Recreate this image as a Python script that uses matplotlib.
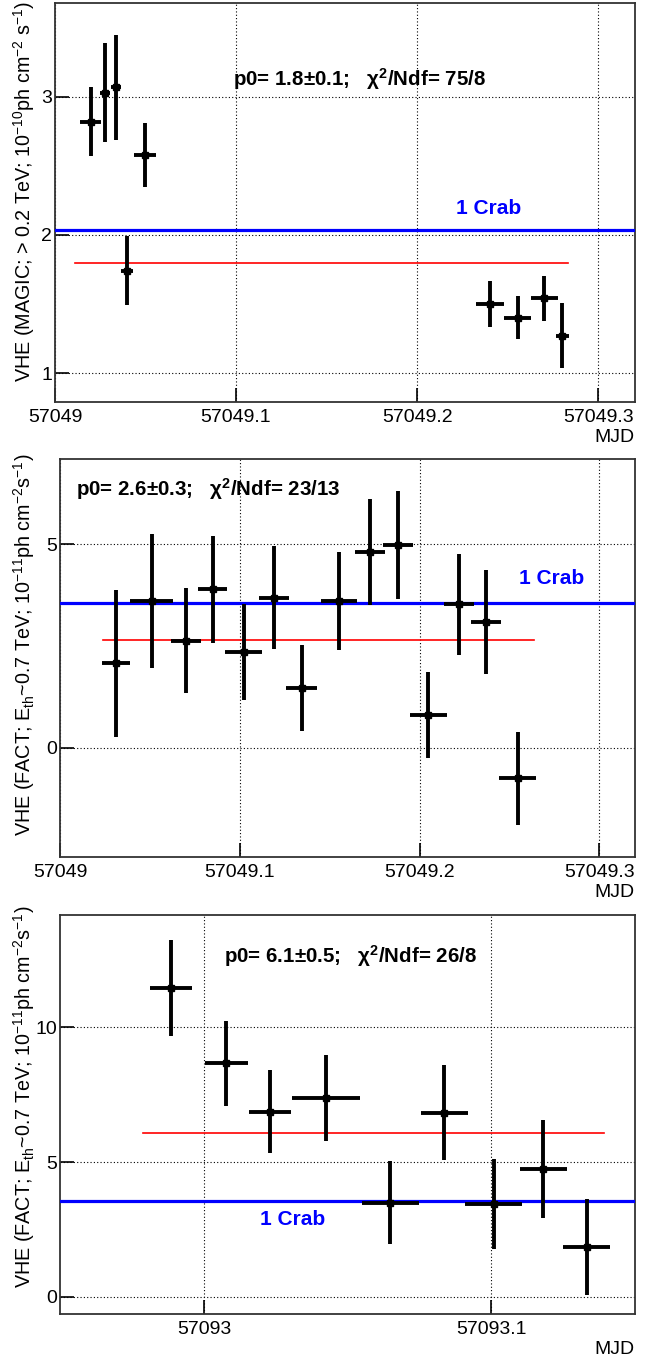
import matplotlib
matplotlib.use("Agg")
import matplotlib.pyplot as plt
import numpy as np

plt.rcParams['font.family'] = ['Liberation Sans', 'DejaVu Sans']
plt.rcParams['mathtext.fontset'] = 'custom'
plt.rcParams['mathtext.rm'] = 'Liberation Sans'
plt.rcParams['mathtext.it'] = 'Liberation Sans:italic'
plt.rcParams['mathtext.bf'] = 'Liberation Sans:bold'
plt.rcParams['mathtext.default'] = 'regular'

# --- MAGIC 2015-02-05 ---
mjd1 = [57049.0197, 57049.0276, 57049.0337, 57049.0396, 57049.0497,
        57049.2403, 57049.2556, 57049.2704, 57049.2803]
flux1 = [2.82, 3.03, 3.07, 1.74, 2.58, 1.50, 1.40, 1.54, 1.27]
yerr1 = [0.25, 0.36, 0.38, 0.25, 0.23, 0.165, 0.155, 0.16, 0.237]
xerr1 = [0.0058, 0.0028, 0.0025, 0.0033, 0.0063, 0.0077, 0.0076, 0.0077, 0.0038]
fit1 = 1.80
fit1_range = [57049.011, 57049.2836]
crab1 = 2.036
xticks1 = [57049.0, 57049.1, 57049.2, 57049.3]
xticklabels1 = ['57049', '57049.1', '57049.2', '57049.3']
yticks1 = [1, 2, 3]
label1 = 'VHE (MAGIC; > 0.2 TeV; 10$^{-10}$ph cm$^{-2}$ s$^{-1}$)'
fittext1 = 'p0= 1.8±0.1;   χ$^{2}$/Ndf= 75/8'

# --- FACT 2015-02-05 ---
mjd2 = [57049.0313, 57049.0510, 57049.0699, 57049.0849, 57049.1022, 57049.1192, 57049.1344,
        57049.1554, 57049.1724, 57049.1878, 57049.2049, 57049.2219, 57049.2371, 57049.2546]
flux2 = [2.07, 3.60, 2.63, 3.89, 2.35, 3.68, 1.46, 3.60, 4.80, 4.98, 0.80, 3.52, 3.08, -0.76]
yerr2 = [1.80, 1.64, 1.28, 1.31, 1.18, 1.26, 1.05, 1.20, 1.30, 1.33, 1.05, 1.24, 1.28, 1.14]
xerr2 = [0.0077, 0.0120, 0.0083, 0.0082, 0.0103, 0.0083, 0.0085, 0.0100, 0.0083, 0.0083,
         0.0102, 0.0082, 0.0083, 0.0102]
fit2 = 2.64
fit2_range = [57049.0241, 57049.2638]
crab2 = 3.545
xticks2 = [57049.0, 57049.1, 57049.2, 57049.3]
xticklabels2 = ['57049', '57049.1', '57049.2', '57049.3']
yticks2 = [0, 5]
label2 = 'VHE (FACT; E$_{th}$~0.7 TeV; 10$^{-11}$ph cm$^{-2}$s$^{-1}$)'
fittext2 = 'p0= 2.6±0.3;   χ$^{2}$/Ndf= 23/13'

# --- FACT 2015-03-21 ---
mjd3 = [57092.9886, 57093.0078, 57093.0230, 57093.0425, 57093.0649, 57093.0837, 57093.1008,
        57093.1181, 57093.1332]
flux3 = [11.45, 8.66, 6.87, 7.38, 3.49, 6.83, 3.44, 4.75, 1.83]
yerr3 = [1.78, 1.59, 1.54, 1.59, 1.55, 1.77, 1.67, 1.81, 1.78]
xerr3 = [0.0074, 0.0076, 0.0072, 0.0117, 0.0100, 0.0081, 0.0100, 0.0082, 0.0081]
fit3 = 6.08
fit3_range = [57092.9789, 57093.1391]
crab3 = 3.55
xticks3 = [57093.0, 57093.1]
xticklabels3 = ['57093', '57093.1']
yticks3 = [0, 5, 10]
label3 = label2
fittext3 = 'p0= 6.1±0.5;   χ$^{2}$/Ndf= 26/8'

W, H = 660, 1362
fig = plt.figure(figsize=(W / 100, H / 100), dpi=100)


def px_axes(l, t, r, b):
    return fig.add_axes([l / W, 1 - b / H, (r - l) / W, (b - t) / H])


def panel(ax, mjd, flux, xerr, yerr, fit, fit_range, crab, xticks, xticklabels,
          yticks, xlim, ylim, ylabel, fittext, fitpos, crabpos, labelpos):
    ax.set_xlim(*xlim)
    ax.set_ylim(*ylim)
    ax.grid(True, color='black', linestyle=(0, (1, 2)), linewidth=0.8)
    ax.set_axisbelow(True)
    ax.axhline(crab, color='#0000ff', lw=2.3, zorder=3)
    ax.plot(fit_range, [fit, fit], color='#ff0000', lw=1.2, zorder=3)
    ax.errorbar(mjd, flux, xerr=xerr, yerr=yerr, fmt='s', color='black', ms=5,
                elinewidth=2.8, capsize=0, zorder=4)
    ax.set_xticks(xticks)
    ax.set_xticklabels(xticklabels)
    ax.set_yticks(yticks)
    ax.tick_params(direction='in', length=10, width=1.2, labelsize=14,
                   top=False, right=False)
    ax.tick_params(axis='x', pad=5)
    ax.tick_params(axis='y', pad=2)
    for s in ax.spines.values():
        s.set_linewidth(1.3)
        s.set_color('#333333')
    ax.set_ylabel(ylabel, fontsize=14.2, loc='top')
    ax.yaxis.set_label_coords(*labelpos)
    ax.text(1.0, -0.088, 'MJD', transform=ax.transAxes, ha='right', va='center', fontsize=14)
    ax.text(fitpos[0], fitpos[1], fittext, transform=ax.transAxes, ha='left', va='center',
            fontsize=14.8, fontweight='bold')
    ax.text(crabpos[0], crabpos[1], '1 Crab', transform=ax.transAxes, ha='center',
            va='center', fontsize=15, fontweight='bold', color='#0000ff')


ax1 = px_axes(55, 3, 635, 402)
panel(ax1, mjd1, flux1, xerr1, yerr1, fit1, fit1_range, crab1, xticks1, xticklabels1,
      yticks1, (57049.0, 57049.3204), (0.79, 3.68), label1, fittext1,
      (0.307, 0.81), (0.747, 0.484), (-0.031, 1.006))

ax2 = px_axes(60, 459, 635, 857)
panel(ax2, mjd2, flux2, xerr2, yerr2, fit2, fit2_range, crab2, xticks2, xticklabels2,
      yticks2, (57049.0, 57049.3198), (-2.69, 7.09), label2, fittext2,
      (0.028, 0.925), (0.855, 0.70), (-0.040, 1.015))

ax3 = px_axes(60, 915, 635, 1314)
panel(ax3, mjd3, flux3, xerr3, yerr3, fit3, fit3_range, crab3, xticks3, xticklabels3,
      yticks3, (57092.9499, 57093.15), (-0.64, 14.17), label3, fittext3,
      (0.285, 0.896), (0.405, 0.238), (-0.040, 1.024))

fig.savefig('out.png', dpi=100)
